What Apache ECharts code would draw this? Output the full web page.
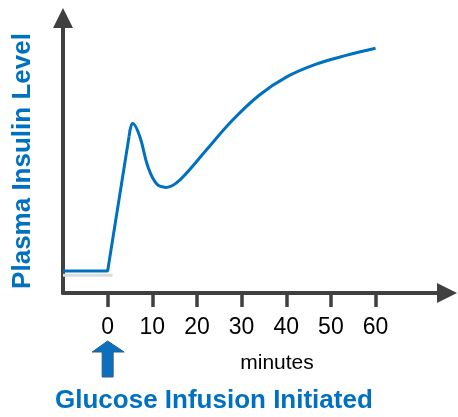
<!DOCTYPE html>
<html>
<head>
<meta charset="utf-8">
<script src="https://cdn.jsdelivr.net/npm/echarts@6/dist/echarts.min.js"></script>
<style>html,body{margin:0;padding:0;background:#fff}#c{width:458px;height:417px}</style>
</head>
<body>
<div id="c"></div>
<script>
// Data (minutes after glucose infusion, relative plasma insulin level)
const riseMinutes = [-10, 0, 4.8];
const riseLevel = [8.0, 8.0, 57.0];
const curveMinutes = [4.8, 5.6, 7.2, 9.0, 11.0, 13.1, 15.3, 17.6, 22.1, 28.0, 34.0, 40.0, 46.7, 53.4, 60.0];
const curveLevel = [57.0, 61.7, 56.9, 46.0, 39.6, 38.4, 39.9, 43.5, 52.0, 62.9, 72.0, 78.5, 83.2, 86.4, 89.0];
const baselineMinutes = [-10, 1.1];
const baselineLevel = [6.5, 6.5];
const tickValues = [0, 10, 20, 30, 40, 50, 60];
const xTitle = 'minutes';
const yTitle = 'Plasma Insulin Level';
const note = 'Glucose Infusion Initiated';

const blue = '#0070c0';
const axisColor = '#404040';
const zip = (a, b) => a.map((v, i) => [v, b[i]]);

const chart = echarts.init(document.getElementById('c'), null, {renderer: 'canvas'});
chart.setOption({
  animation: false,
  grid: {left: 63, right: 11, top: 18, bottom: 124, containLabel: false},
  xAxis: {
    type: 'value', min: -10, max: 76,
    splitLine: {show: false},
    axisLine: {onZero: false, lineStyle: {color: axisColor, width: 4}, symbol: ['none', 'triangle'], symbolSize: [20, 20]},
    axisTick: {show: true, customValues: tickValues, length: 14, lineStyle: {color: axisColor, width: 3.5}},
    axisLabel: {show: true, customValues: tickValues, margin: 23, color: '#000', fontSize: 23, fontFamily: 'Liberation Sans'}
  },
  yAxis: {
    type: 'value', min: 0, max: 100,
    splitLine: {show: false},
    axisLine: {show: true, onZero: false, lineStyle: {color: axisColor, width: 4}, symbol: ['none', 'triangle'], symbolSize: [20, 20]},
    axisTick: {show: false},
    axisLabel: {show: false}
  },
  series: [
    {type: 'line', data: zip(baselineMinutes, baselineLevel), symbol: 'none', lineStyle: {color: '#dcdcdc', width: 3}, z: 1},
    {type: 'line', data: zip(riseMinutes, riseLevel), symbol: 'none', lineStyle: {color: blue, width: 3}, z: 3},
    {type: 'line', data: zip(curveMinutes, curveLevel), symbol: 'none', smooth: 0.4, lineStyle: {color: blue, width: 3}, z: 3}
  ]
});

const x0 = chart.convertToPixel({xAxisIndex: 0}, 0);
chart.setOption({
  graphic: [
    {type: 'polygon', shape: {points: [[x0, 341], [x0 - 15.5, 352], [x0 - 5.5, 352], [x0 - 5.5, 377], [x0 + 5.5, 377], [x0 + 5.5, 352], [x0 + 16.5, 352]]},
     style: {fill: '#0a6fbd', stroke: '#2c5e8c', lineWidth: 1}},
    {type: 'text', x: 277, y: 363, style: {text: xTitle, fill: '#000', font: '21px "Liberation Sans"', textAlign: 'center', textVerticalAlign: 'middle'}},
    {type: 'text', x: 55, y: 401, style: {text: note, fill: blue, font: 'bold 26px "Liberation Sans"', textAlign: 'left', textVerticalAlign: 'middle'}},
    {type: 'text', x: 23, y: 161, rotation: Math.PI / 2, style: {text: yTitle, fill: blue, font: 'bold 26px "Liberation Sans"', textAlign: 'center', textVerticalAlign: 'middle'}}
  ]
});
</script>
</body>
</html>
